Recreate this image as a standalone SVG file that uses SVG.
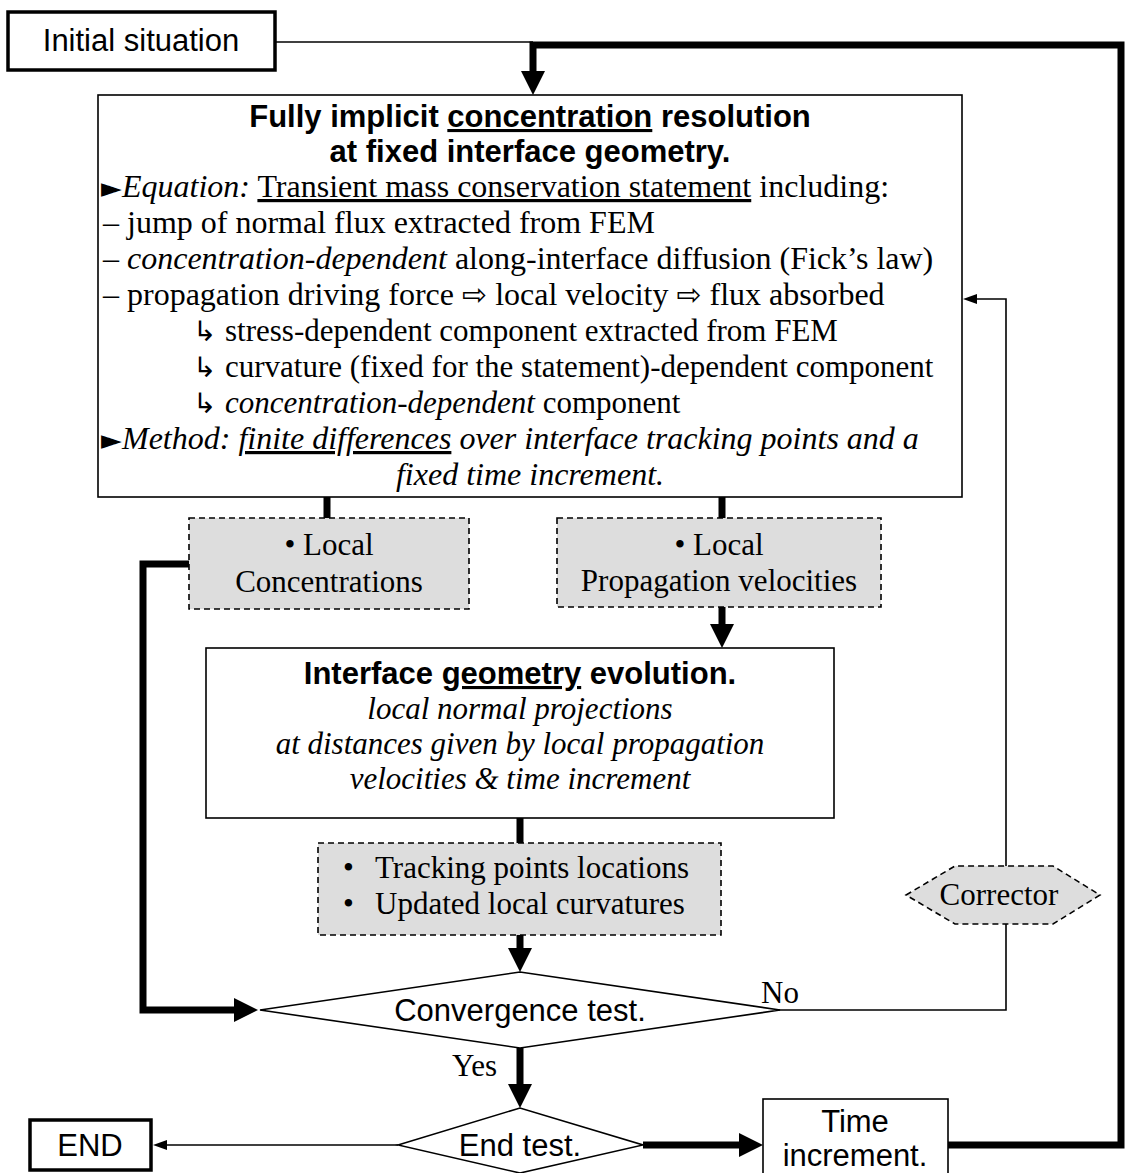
<svg xmlns="http://www.w3.org/2000/svg" width="1125" height="1173" viewBox="0 0 1125 1173">
  <style>
    .box { fill: #ffffff; stroke: #000000; stroke-width: 1.6; }
    .boxb { fill: #ffffff; stroke: #000000; stroke-width: 3.5; }
    .data { fill: #dddddd; stroke: #000000; stroke-width: 1.6; stroke-dasharray: 6 4; }
    .thin { fill: none; stroke: #000000; stroke-width: 1.6; }
    .thick { fill: none; stroke: #000000; stroke-width: 7; }
    .sans { font-family: "Liberation Sans", Arial, sans-serif; font-size: 31px; fill: #000000; }
    .sansb { font-family: "Liberation Sans", Arial, sans-serif; font-size: 31px; font-weight: bold; fill: #000000; }
    .serif { font-family: "Liberation Serif", "Times New Roman", serif; font-size: 31px; fill: #000000; }
    .big { font-size: 32px; }
    .it { font-style: italic; }
    .ul { text-decoration: underline; }
    .sym { font-family: "DejaVu Sans", sans-serif; }
    .mid { text-anchor: middle; }
  </style>
  <defs>
    <marker id="headThick" viewBox="0 0 24 24" markerWidth="24" markerHeight="24" refX="2" refY="12" orient="auto" markerUnits="userSpaceOnUse">
      <path d="M0,0 L24,12 L0,24 z" fill="#000000"/>
    </marker>
    <marker id="headThin" viewBox="0 0 14 10" markerWidth="14" markerHeight="10" refX="1" refY="5" orient="auto" markerUnits="userSpaceOnUse">
      <path d="M0,0 L14,5 L0,10 z" fill="#000000"/>
    </marker>
  </defs>

  <!-- connectors -->
  <g id="connectors">
    <path class="thin" d="M275,42 H533"/>
    <path class="thick" d="M948,1145 H1121 V45 H533 V73" marker-end="url(#headThick)"/>
    <path class="thick" d="M327,497 V518"/>
    <path class="thick" d="M722,497 V518"/>
    <path class="thick" d="M722,607 V626" marker-end="url(#headThick)"/>
    <path class="thick" d="M520,818 V843"/>
    <path class="thick" d="M520,935 V950" marker-end="url(#headThick)"/>
    <path class="thick" d="M189,564 H143 V1010 H236" marker-end="url(#headThick)"/>
    <path class="thick" d="M520,1048 V1086" marker-end="url(#headThick)"/>
    <path class="thick" d="M643,1145 H741" marker-end="url(#headThick)"/>
    <path class="thin" d="M398,1145 H166" marker-end="url(#headThin)"/>
    <path class="thin" d="M778,1010 H1006 V299 H976" marker-end="url(#headThin)"/>
    <text class="serif" x="761" y="1003">No</text>
    <text class="serif" x="452" y="1076">Yes</text>
  </g>

  <!-- start -->
  <g id="initial">
    <rect class="boxb" x="8" y="12" width="267" height="58"/>
    <text class="sans mid" x="141" y="51">Initial situation</text>
  </g>

  <!-- concentration solve -->
  <g id="concentration-resolution">
    <rect class="box" x="98" y="95" width="864" height="402"/>
    <text class="sansb mid" x="530" y="127">Fully implicit <tspan class="ul">concentration</tspan> resolution</text>
    <text class="sansb mid" x="530" y="162">at fixed interface geometry.</text>
    <text class="serif big" x="101" y="197"><tspan class="sym" font-size="27">►</tspan><tspan x="122" class="it">Equation:</tspan> <tspan class="ul">Transient mass conservation statement</tspan> including:</text>
    <text class="serif big" x="103" y="233">– jump of normal flux extracted from FEM</text>
    <text class="serif big" x="103" y="269">– <tspan class="it">concentration-dependent</tspan> along-interface diffusion (Fick’s law)</text>
    <text class="serif big" x="103" y="305">– propagation driving force <tspan class="sym" font-size="30">⇨</tspan> local velocity <tspan class="sym" font-size="30">⇨</tspan> flux absorbed</text>
    <text class="serif" x="193" y="341"><tspan class="sym" font-size="28">↳</tspan><tspan x="225">stress-dependent component extracted from FEM</tspan></text>
    <text class="serif" x="193" y="377"><tspan class="sym" font-size="28">↳</tspan><tspan x="225">curvature (fixed for the statement)-dependent component</tspan></text>
    <text class="serif" x="193" y="413"><tspan class="sym" font-size="28">↳</tspan><tspan x="225" class="it">concentration-dependent</tspan> component</text>
    <text class="serif big" x="101" y="449"><tspan class="sym" font-size="27">►</tspan><tspan x="122" class="it">Method: </tspan><tspan class="it ul">finite differences</tspan><tspan class="it"> over interface tracking points and a</tspan></text>
    <text class="serif big it mid" x="530" y="485">fixed time increment.</text>
  </g>

  <!-- data produced by the solve -->
  <g id="local-concentrations">
    <rect class="data" x="189" y="518" width="280" height="91"/>
    <text class="serif mid" x="329" y="555">• Local</text>
    <text class="serif mid" x="329" y="592">Concentrations</text>
  </g>
  <g id="local-velocities">
    <rect class="data" x="557" y="518" width="324" height="89"/>
    <text class="serif mid" x="719" y="555">• Local</text>
    <text class="serif mid" x="719" y="591">Propagation velocities</text>
  </g>

  <!-- geometry update -->
  <g id="geometry-evolution">
    <rect class="box" x="206" y="648" width="628" height="170"/>
    <text class="sansb mid" x="520" y="684">Interface <tspan class="ul">geometry</tspan> evolution.</text>
    <text class="serif it mid" x="520" y="719">local normal projections</text>
    <text class="serif it mid" x="520" y="754">at distances given by local propagation</text>
    <text class="serif it mid" x="520" y="789">velocities &amp; time increment</text>
  </g>
  <g id="tracking-data">
    <rect class="data" x="318" y="843" width="403" height="92"/>
    <text class="serif" x="343" y="878">•<tspan x="375">Tracking points locations</tspan></text>
    <text class="serif" x="343" y="914">•<tspan x="375">Updated local curvatures</tspan></text>
  </g>

  <!-- corrector on the no-branch -->
  <g id="corrector">
    <polygon class="data" points="906,895 955,866 1053,866 1100,895 1053,924 955,924"/>
    <text class="serif mid" x="999" y="905">Corrector</text>
  </g>

  <!-- decisions -->
  <g id="convergence-test">
    <polygon class="box" points="260,1010 520,972 780,1010 520,1048"/>
    <text class="sans mid" x="520" y="1021">Convergence test.</text>
  </g>
  <g id="end-test">
    <polygon class="box" points="398,1145 520,1108 643,1145 520,1173"/>
    <text class="sans mid" x="520" y="1156">End test.</text>
  </g>

  <g id="end">
    <rect class="boxb" x="30" y="1120" width="121" height="50"/>
    <text class="sans mid" x="90" y="1156">END</text>
  </g>
  <g id="time-increment">
    <rect class="box" x="763" y="1099" width="185" height="85"/>
    <text class="sans mid" x="855" y="1132">Time</text>
    <text class="sans mid" x="855" y="1166">increment.</text>
  </g>
</svg>
